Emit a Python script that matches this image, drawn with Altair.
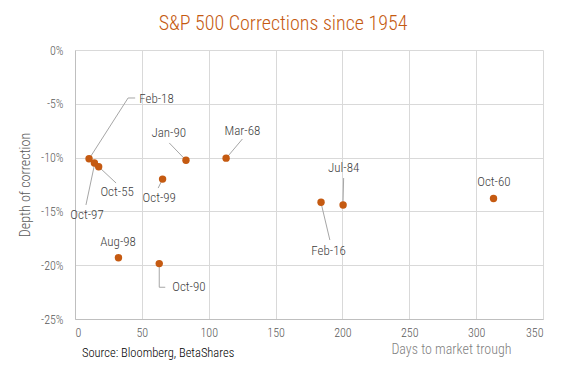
import altair as alt
import pandas as pd

# Corrections: name, days to trough, depth (%)
names = ["Feb-18", "Oct-97", "Oct-55", "Jan-90", "Mar-68", "Oct-99", "Aug-98", "Oct-90", "Feb-16", "Jul-84", "Oct-60"]
days = [10.5, 14.5, 17.7, 83, 113, 65.5, 32.5, 63, 184, 200.5, 313]
depth = [-10.1, -10.5, -10.85, -10.25, -10.05, -12.0, -19.3, -19.85, -14.15, -14.4, -13.8]

# Label anchor positions (data units) and alignment
label_x = [48.0, 9.0, 31.5, 70.1, 125.2, 63.0, 32.2, 72.7, 189.6, 200.9, 313.3]
label_y = [-4.55, -15.33, -13.2, -7.71, -7.53, -13.75, -17.85, -22.05, -18.68, -10.97, -12.27]
label_align = ["left", "center", "center", "center", "center", "center", "center", "left", "center", "center", "center"]

# Leader line segments (data units)
seg_x1 = [10.5, 39.7, 14.5, 17.7, 70.5, 125.2, 65.5, 63.0, 63.0, 183.9, 200.9]
seg_y1 = [-10.13, -4.46, -10.7, -10.85, -8.64, -8.27, -12.0, -19.85, -22.05, -14.15, -11.9]
seg_x2 = [39.7, 45.0, 8.2, 30.7, 83.0, 113.0, 62.2, 63.0, 67.5, 190.6, 200.4]
seg_y2 = [-4.46, -4.46, -14.4, -12.36, -10.25, -10.07, -12.83, -22.05, -22.05, -17.66, -14.38]

FONT = "Roboto Condensed, Liberation Sans Narrow, DejaVu Sans Condensed, sans-serif"
W = 300
ORANGE = "#C55A11"

pts = pd.DataFrame({"name": names, "days": days, "depth": depth})
labs = pd.DataFrame({"name": names, "lx": label_x, "ly": label_y, "align": label_align})
segs = pd.DataFrame({"x1": seg_x1, "y1": seg_y1, "x2": seg_x2, "y2": seg_y2})

xscale = alt.Scale(domain=[0, 350], nice=False, zero=False)
yscale = alt.Scale(domain=[-25, 0], nice=False)

xaxis = alt.Axis(values=[0, 50, 100, 150, 200, 250, 300, 350], title="Days to market trough",
                 titleX=436, titleY=30, titleAlign="right", titleBaseline="middle",
                 titleFontWeight=W, titleFontSize=14, titleColor="#7F7F7F", titleFont=FONT,
                 labelFont=FONT, labelFontSize=12, labelFontWeight=W, labelColor="#595959", labelPadding=8,
                 ticks=False, domainColor="#BFBFBF", gridColor="#D9D9D9")
yaxis = alt.Axis(values=[0, -5, -10, -15, -20, -25], title="Depth of correction",
                 labelExpr="datum.value + '%'",
                 titleX=-50, titleY=134.5, titleAngle=270, titleAlign="center", titleBaseline="middle",
                 titleFontWeight=W, titleFontSize=14, titleColor="#595959", titleFont=FONT,
                 labelFont=FONT, labelFontSize=12, labelFontWeight=W, labelColor="#595959", labelPadding=12,
                 ticks=False, domainColor="#BFBFBF", gridColor="#D9D9D9")

rules = alt.Chart(segs).mark_rule(color="#A6A6A6", strokeWidth=1).encode(
    x=alt.X("x1:Q", scale=xscale, axis=xaxis),
    y=alt.Y("y1:Q", scale=yscale, axis=yaxis),
    x2="x2:Q", y2="y2:Q")

points = alt.Chart(pts).mark_circle(size=55, color=ORANGE, opacity=1).encode(
    x=alt.X("days:Q", scale=xscale),
    y=alt.Y("depth:Q", scale=yscale))

text_center = alt.Chart(labs).transform_filter("datum.align == 'center'").mark_text(
    font=FONT, fontSize=13, fontWeight=W, color="#404040", align="center", baseline="middle").encode(
    x=alt.X("lx:Q", scale=xscale), y=alt.Y("ly:Q", scale=yscale), text="name:N")
text_left = alt.Chart(labs).transform_filter("datum.align == 'left'").mark_text(
    font=FONT, fontSize=13, fontWeight=W, color="#404040", align="left", baseline="middle").encode(
    x=alt.X("lx:Q", scale=xscale), y=alt.Y("ly:Q", scale=yscale), text="name:N")

source = alt.Chart(pd.DataFrame({"t": ["Source: Bloomberg, BetaShares"]})).mark_text(
    font=FONT, fontSize=12.5, fontWeight=W, color="#000000", align="left", baseline="middle").encode(
    x=alt.value(7), y=alt.value(303), text="t:N")

chart = alt.layer(rules, points, text_center, text_left, source).properties(
    width=468, height=269,
    title=alt.Title("S&P 500 Corrections since 1954", font=FONT, fontSize=20, fontWeight=W,
                    color=ORANGE, anchor="middle", dx=-26, offset=10),
    autosize=alt.AutoSizeParams(type="none"),
    padding={"left": 67, "top": 42, "right": 14, "bottom": 52},
).configure_view(stroke=None).configure_axis(grid=True)

chart.save("out.html", embed_options={"renderer": "svg", "actions": False})
